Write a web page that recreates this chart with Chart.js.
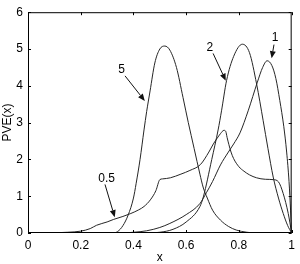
<!DOCTYPE html>
<html>
<head>
<meta charset="utf-8">
<script src="https://cdn.jsdelivr.net/npm/chart.js@4/dist/chart.umd.min.js"></script>
<style>
html,body{margin:0;padding:0;background:#fff;}
#wrap{width:300px;height:264px;position:relative;}
</style>
</head>
<body>
<div id="wrap"><canvas id="c" width="300" height="264"></canvas></div>
<script>
// ---- data ----
const xTicks = [0, 0.2, 0.4, 0.6, 0.8, 1];
const yTicks = [0, 1, 2, 3, 4, 5, 6];

const xs05 = [0, 0.05, 0.1, 0.15, 0.2, 0.236, 0.26, 0.3, 0.325, 0.36, 0.39, 0.42, 0.44, 0.464, 0.485, 0.5, 0.51, 0.54, 0.58, 0.614, 0.654, 0.686, 0.703, 0.717, 0.73, 0.743, 0.75, 0.755, 0.762, 0.77, 0.78, 0.8, 0.819, 0.84, 0.867, 0.9, 0.93, 0.95, 0.968, 0.987, 1.0];
const ys05 = [0, 0, 0.005, 0.02, 0.05, 0.12, 0.21, 0.3, 0.37, 0.45, 0.53, 0.63, 0.72, 0.9, 1.15, 1.45, 1.47, 1.5, 1.6, 1.7, 1.86, 2.2, 2.42, 2.57, 2.7, 2.79, 2.76, 2.6, 2.4, 2.2, 2.02, 1.8, 1.68, 1.58, 1.5, 1.46, 1.45, 1.39, 1.07, 0.53, 0];

const xs1 = [0, 0.35, 0.4, 0.45, 0.5, 0.538, 0.6, 0.652, 0.677, 0.7, 0.73, 0.76, 0.78, 0.804, 0.835, 0.87, 0.89, 0.907, 0.925, 0.94, 0.955, 0.97, 0.981, 0.99, 0.996, 1.0];
const ys1 = [0, 0, 0.02, 0.06, 0.15, 0.26, 0.5, 0.8, 1.1, 1.4, 1.85, 2.2, 2.42, 2.72, 3.32, 4.1, 4.5, 4.68, 4.55, 4.2, 3.6, 2.9, 2.2, 1.4, 0.6, 0];

const xs2 = [0, 0.45, 0.5, 0.55, 0.6, 0.652, 0.665, 0.697, 0.721, 0.734, 0.753, 0.78, 0.813, 0.84, 0.867, 0.892, 0.91, 0.93, 0.95, 0.968, 0.985, 1.0];
const ys2 = [0, 0, 0.02, 0.1, 0.3, 0.72, 0.98, 2.0, 2.8, 3.32, 4.14, 4.8, 5.13, 4.9, 4.05, 3.05, 2.3, 1.52, 0.95, 0.53, 0.2, 0];

const xs5 = [0, 0.3, 0.32, 0.34, 0.36, 0.38, 0.4, 0.41, 0.425, 0.44, 0.45, 0.463, 0.481, 0.5, 0.519, 0.538, 0.563, 0.588, 0.608, 0.63, 0.652, 0.664, 0.68, 0.7, 0.73, 0.76, 0.79, 0.83, 0.87, 1.0];
const ys5 = [0, 0, 0, 0.04, 0.2, 0.49, 0.95, 1.34, 2.0, 2.8, 3.3, 3.86, 4.62, 5.0, 5.08, 4.97, 4.5, 3.68, 3.0, 2.3, 1.6, 1.25, 0.95, 0.62, 0.35, 0.18, 0.08, 0.02, 0, 0];

// annotations: label text, label position, arrow tail, arrow head (data coordinates)
const noteText = ['5', '2', '1', '0.5'];
const noteAt = [[0.355, 4.45], [0.690, 5.04], [0.937, 5.30], [0.298, 1.47]];
const arrowFrom = [[0.368, 4.27], [0.702, 4.88], [0.933, 5.12], [0.292, 1.32]];
const arrowTo = [[0.443, 3.59], [0.750, 4.14], [0.924, 4.75], [0.329, 0.43]];

function pts(xs, ys) { return xs.map((x, i) => ({ x: x, y: ys[i] })); }

const FONT = '"Liberation Sans", Arial, Helvetica, sans-serif';
const LINE = '#262626';

const framePlugin = {
  id: 'frame',
  afterDraw(chart) {
    const ctx = chart.ctx;
    const a = chart.chartArea;
    const xs = chart.scales.x, ys = chart.scales.y;
    ctx.save();
    // box
    ctx.strokeStyle = '#000';
    ctx.lineWidth = 1;
    ctx.strokeRect(a.left + 0.5, a.top + 0.5, a.right - a.left - 1, a.bottom - a.top - 1);
    // inward ticks
    const tl = 3;
    ctx.beginPath();
    xTicks.forEach(v => {
      const p = Math.round(xs.getPixelForValue(v)) + 0.5;
      ctx.moveTo(p, a.bottom); ctx.lineTo(p, a.bottom - tl);
      ctx.moveTo(p, a.top); ctx.lineTo(p, a.top + tl);
    });
    yTicks.forEach(v => {
      const p = Math.round(ys.getPixelForValue(v)) + 0.5;
      ctx.moveTo(a.left, p); ctx.lineTo(a.left + tl, p);
      ctx.moveTo(a.right, p); ctx.lineTo(a.right - tl, p);
    });
    ctx.stroke();
    // axis titles
    ctx.fillStyle = '#000';
    ctx.font = '12px ' + FONT;
    ctx.textAlign = 'center';
    ctx.textBaseline = 'middle';
    ctx.fillText('x', (a.left + a.right) / 2, 258);
    ctx.save();
    ctx.translate(8, (a.top + a.bottom) / 2);
    ctx.rotate(-Math.PI / 2);
    ctx.fillText('PVE(x)', 0, 0);
    ctx.restore();
    // annotations
    ctx.font = '12px ' + FONT;
    noteText.forEach((t, i) => {
      const lx = xs.getPixelForValue(noteAt[i][0]);
      const ly = ys.getPixelForValue(noteAt[i][1]);
      ctx.fillText(t, lx, ly);
      const x0 = xs.getPixelForValue(arrowFrom[i][0]);
      const y0 = ys.getPixelForValue(arrowFrom[i][1]);
      const x1 = xs.getPixelForValue(arrowTo[i][0]);
      const y1 = ys.getPixelForValue(arrowTo[i][1]);
      const ang = Math.atan2(y1 - y0, x1 - x0);
      const hl = 7, hw = 3;
      const bx = x1 - hl * Math.cos(ang), by = y1 - hl * Math.sin(ang);
      ctx.strokeStyle = '#111';
      ctx.lineWidth = 1;
      ctx.beginPath();
      ctx.moveTo(x0, y0); ctx.lineTo(bx, by);
      ctx.stroke();
      ctx.beginPath();
      ctx.moveTo(x1, y1);
      ctx.lineTo(bx + hw * Math.sin(ang), by - hw * Math.cos(ang));
      ctx.lineTo(bx - hw * Math.sin(ang), by + hw * Math.cos(ang));
      ctx.closePath();
      ctx.fillStyle = '#111';
      ctx.fill();
      ctx.fillStyle = '#000';
    });
    ctx.restore();
  }
};

const ds = (label, xs, ys) => ({
  label: label,
  data: pts(xs, ys),
  borderColor: LINE,
  borderWidth: 1,
  pointRadius: 0,
  fill: false,
  cubicInterpolationMode: 'monotone'
});

new Chart(document.getElementById('c'), {
  type: 'line',
  data: {
    datasets: [
      ds('0.5', xs05, ys05),
      ds('1', xs1, ys1),
      ds('2', xs2, ys2),
      ds('5', xs5, ys5)
    ]
  },
  options: {
    responsive: false,
    animation: false,
    devicePixelRatio: 1,
    layout: { padding: { left: 0, top: 11, right: 8, bottom: 0 } },
    plugins: { legend: { display: false }, tooltip: { enabled: false } },
    scales: {
      x: {
        type: 'linear', min: 0, max: 1,
        afterFit(s) { s.height = 31; },
        afterBuildTicks(s) { s.ticks = xTicks.map(v => ({ value: v })); },
        grid: { display: false, drawTicks: false },
        border: { display: false },
        ticks: { padding: 5, color: '#000', maxRotation: 0, font: { family: FONT, size: 12 },
                 callback: v => String(v) }
      },
      y: {
        type: 'linear', min: 0, max: 6,
        afterFit(s) { s.width = 28; },
        afterBuildTicks(s) { s.ticks = yTicks.map(v => ({ value: v })); },
        grid: { display: false, drawTicks: false },
        border: { display: false },
        ticks: { padding: 5, color: '#000', font: { family: FONT, size: 12 },
                 callback: v => String(v) }
      }
    }
  },
  plugins: [framePlugin]
});
</script>
</body>
</html>
